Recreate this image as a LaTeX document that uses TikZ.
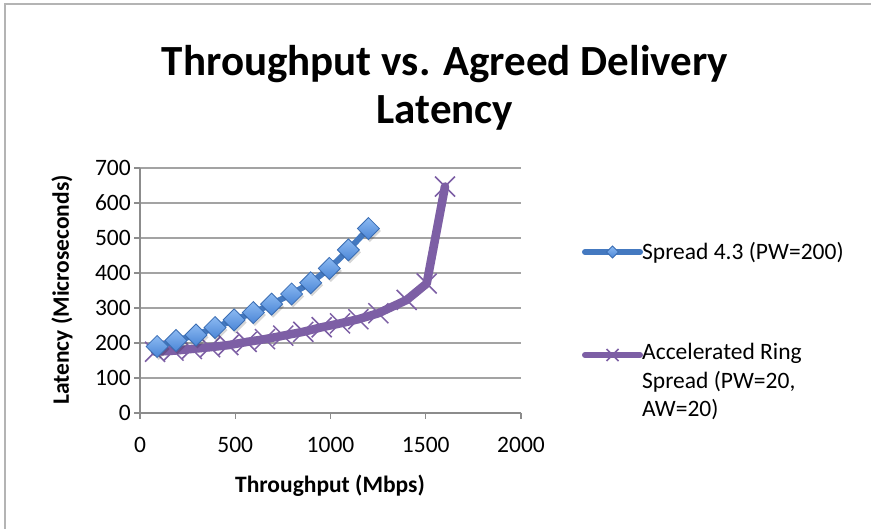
\documentclass[tikz,border=0pt]{standalone}
\usepackage{fontspec}
\setmainfont{Carlito}
\definecolor{framegray}{HTML}{B4B4B4}
\definecolor{gridgray}{HTML}{A3A3A3}
\definecolor{axisgray}{HTML}{8C8C8C}
\definecolor{sprblue}{HTML}{4479C0}
\definecolor{diamtop}{HTML}{8CBAF2}
\definecolor{diambot}{HTML}{4A85D6}
\definecolor{diamedge}{HTML}{3A6DB3}
\definecolor{ringpurple}{HTML}{7D5FA5}
\tikzset{
  gridline/.style={draw=gridgray, line width=1.4pt},
  axisline/.style={draw=axisgray, line width=1.4pt},
  ticklabel/.style={font=\fontsize{23.5}{26}\selectfont, inner sep=0pt},
  axistitle/.style={font=\bfseries\fontsize{23.5}{26}\selectfont, inner sep=0pt},
  legendtext/.style={font=\fontsize{23.5}{28.5}\selectfont, inner sep=0pt, align=left},
  bluepath/.style={draw=sprblue, line width=6pt, line join=round},
  purplepath/.style={draw=ringpurple, line width=8.5pt, line join=round, line cap=round},
  crossmark/.style={draw=ringpurple, line width=1.5pt},
  diamondmark/.style={draw=diamedge, line width=0.8pt, top color=diamtop, bottom color=diambot},
  shadowmark/.style={fill=black, opacity=0.16}
}
% diamond marker of half-diagonal #2 at point #1
\newcommand{\diamondat}[2]{%
  \fill[shadowmark] ([shift={(1.5pt,-2.5pt)}]#1) +(0,#2) -- +(#2,0) -- +(0,-#2) -- +(-#2,0) -- cycle;
  \path[diamondmark] (#1) +(0,#2) -- +(#2,0) -- +(0,-#2) -- +(-#2,0) -- cycle;}
% cross marker of half-size #2 at point #1
\newcommand{\crossat}[2]{%
  \draw[crossmark] (#1) +(-#2,-#2) -- +(#2,#2) (#1) +(-#2,#2) -- +(#2,-#2);}
\begin{document}
\begin{tikzpicture}[x=1pt,y=-1pt]
\useasboundingbox (0,0) rectangle (871,529);
\fill[white] (0,0) rectangle (871,529);
% chart area border
\draw[framegray, line width=2pt] (5,529) -- (5,4) -- (871,4);

% title
\node[font=\bfseries\fontsize{43}{48}\selectfont, align=center, inner sep=0pt] (title) at (445,88)
  {Throughput vs. Agreed Delivery\\Latency};

% plot area: origin at (140,413), 2000 units across 381pt, 700 units up 245pt
\begin{scope}[shift={(140pt,-413pt)}, x=0.1905pt, y=0.35pt]
  \foreach \v in {100,200,...,700} {
    \draw[gridline] (0,\v) -- (2000,\v);
  }
  \draw[axisline] (0,0) -- (0,700);
  \draw[axisline] (0,0) -- (2000,0);
  \foreach \v in {0,100,...,700} {
    \draw[axisline] (0,\v) -- ++(-6pt,0pt);
    \node[ticklabel, anchor=east] (ylab\v) at ([xshift=-9pt]0,\v) {\v};
  }
  \foreach \v in {0,500,...,2000} {
    \draw[axisline] (\v,0) -- ++(0pt,-6pt);
    \node[ticklabel, anchor=north] (xlab\v) at ([yshift=-24pt]\v,0) {\v};
  }

  % Accelerated Ring Spread series
  \coordinate (r1) at (79,175);   \coordinate (r2) at (176,178);
  \coordinate (r3) at (272,183);  \coordinate (r4) at (368,188);
  \coordinate (r5) at (464,194);  \coordinate (r6) at (560,203);
  \coordinate (r7) at (656,211);  \coordinate (r8) at (752,221);
  \coordinate (r9) at (857,232);  \coordinate (r10) at (954,245);
  \coordinate (r11) at (1050,256);\coordinate (r12) at (1146,268);
  \coordinate (r13) at (1251,285);\coordinate (r14) at (1400,323);
  \coordinate (r15) at (1505,370);\coordinate (r16) at (1601,647);
  \draw[purplepath, draw=black, opacity=0.12, shift={(1.5pt,-2.5pt)}]
    (r1) foreach \i in {2,...,16} { -- (r\i) };
  \draw[purplepath] (r1) foreach \i in {2,...,16} { -- (r\i) };
  \foreach \i in {1,...,16} { \crossat{r\i}{10pt} }

  % Spread 4.3 series
  \coordinate (s1) at (90,190);   \coordinate (s2) at (189,207);
  \coordinate (s3) at (294,223);  \coordinate (s4) at (394,244);
  \coordinate (s5) at (494,266);  \coordinate (s6) at (595,287);
  \coordinate (s7) at (691,311);  \coordinate (s8) at (796,340);
  \coordinate (s9) at (896,372);  \coordinate (s10) at (994,413);
  \coordinate (s11) at (1094,466);\coordinate (s12) at (1199,527);
  \draw[bluepath] (s1) foreach \i in {2,...,12} { -- (s\i) };
  \foreach \i in {1,...,12} { \diamondat{s\i}{11pt} }
\end{scope}

% axis titles
\node[axistitle, rotate=90] (ytitle) at (62,290) {Latency (Microseconds)};
\node[axistitle] (xtitle) at (330,486) {Throughput (Mbps)};

% legend
\coordinate (l1a) at (585,252); \coordinate (l1b) at (640,252);
\coordinate (l1m) at (612.5,252);
\draw[draw=sprblue, line width=6pt, line cap=round] (l1a) -- (l1b);
\path[diamondmark] (l1m) +(0,6) -- +(6,0) -- +(0,-6) -- +(-6,0) -- cycle;
\node[legendtext, anchor=west] (leg1) at (642,253) {Spread 4.3 (PW=200)};

\coordinate (l2a) at (585,355); \coordinate (l2b) at (640,355);
\coordinate (l2m) at (612.5,355);
\draw[draw=ringpurple, line width=6pt, line cap=round] (l2a) -- (l2b);
\draw[crossmark] (l2m) +(-6,-6) -- +(6,6) (l2m) +(-6,6) -- +(6,-6);
\node[legendtext, anchor=north west] (leg2) at (642,343) {Accelerated Ring\\Spread (PW=20,\\AW=20)};
\end{tikzpicture}
\end{document}
